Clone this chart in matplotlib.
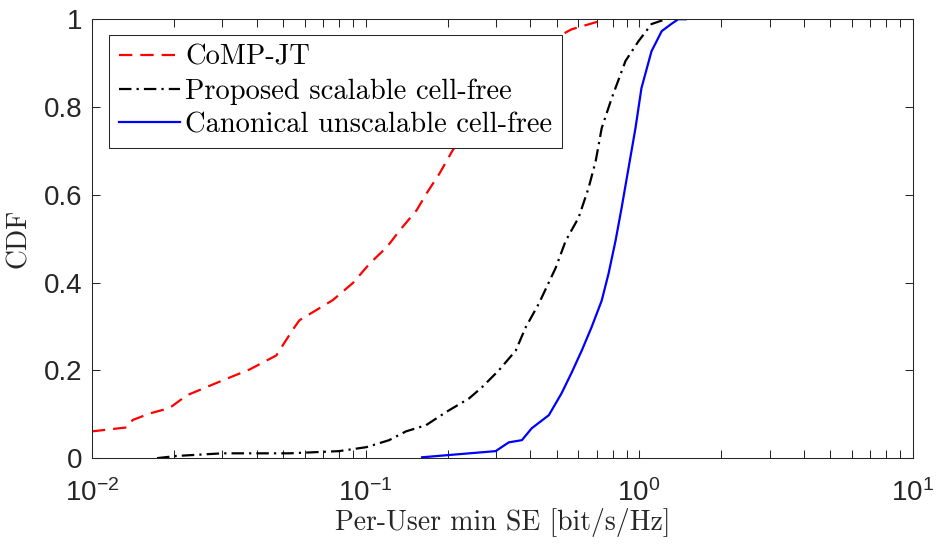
import math
import matplotlib
matplotlib.use('Agg')
from matplotlib import pyplot as plt
from matplotlib import ticker

# CDF curves (x in bit/s/Hz, y = CDF)
comp_x = [0.01, 0.0134, 0.0141, 0.0163, 0.0192, 0.0222, 0.030, 0.0377, 0.0472, 0.054,
          0.0573, 0.0759, 0.0899, 0.1038, 0.1197, 0.1334, 0.1538, 0.1675, 0.1866, 0.2085,
          0.26, 0.35, 0.508, 0.566, 0.711, 0.75]
comp_y = [0.061, 0.07, 0.087, 0.102, 0.114, 0.143, 0.177, 0.202, 0.234, 0.291,
          0.314, 0.36, 0.399, 0.444, 0.481, 0.519, 0.565, 0.604, 0.649, 0.702,
          0.78, 0.87, 0.961, 0.977, 0.995, 1.0]

prop_x = [0.0173, 0.0204, 0.030, 0.0527, 0.080, 0.1007, 0.122, 0.1406, 0.1663, 0.197,
          0.239, 0.266, 0.307, 0.354, 0.385, 0.430, 0.496, 0.539, 0.601, 0.654,
          0.694, 0.730, 0.794, 0.892, 0.995, 1.11, 1.25]
prop_y = [0, 0.005, 0.011, 0.011, 0.016, 0.025, 0.041, 0.061, 0.075, 0.105,
          0.136, 0.161, 0.2, 0.245, 0.298, 0.352, 0.434, 0.495, 0.548, 0.616,
          0.677, 0.752, 0.82, 0.905, 0.95, 0.989, 1.0]

canon_x = [0.161, 0.299, 0.334, 0.373, 0.405, 0.468, 0.521, 0.567, 0.617, 0.670,
           0.730, 0.773, 0.820, 0.863, 0.915, 0.970, 1.02, 1.11, 1.21, 1.31, 1.39, 1.48]
canon_y = [0.002, 0.016, 0.036, 0.041, 0.068, 0.098, 0.148, 0.195, 0.245, 0.298,
           0.359, 0.420, 0.495, 0.570, 0.661, 0.752, 0.843, 0.927, 0.973, 0.989, 1.0, 1.0]

labels = ['CoMP-JT', 'Proposed scalable cell-free', 'Canonical unscalable cell-free']
yticks = [0, 0.2, 0.4, 0.6, 0.8, 1]
ytick_labels = ['0', '0.2', '0.4', '0.6', '0.8', '1']

plt.rcParams['font.family'] = 'Liberation Sans'
plt.rcParams['mathtext.fontset'] = 'custom'
plt.rcParams['mathtext.rm'] = 'Liberation Sans'
plt.rcParams['mathtext.it'] = 'Liberation Sans:italic'
plt.rcParams['mathtext.bf'] = 'Liberation Sans:bold'

serif = 'cmr10'
axis_col = '#262626'

fig = plt.figure(figsize=(9.38, 5.5), dpi=100)
ax = fig.add_axes([0.098, 0.167, 0.875, 0.798])

ax.plot(comp_x, comp_y, color='#ff0000', lw=1.6, dashes=(6.0, 3.6), label=labels[0])
ax.plot(prop_x, prop_y, color='black', lw=1.6, dashes=(5.6, 2.3, 1.0, 2.3), label=labels[1])
ax.plot(canon_x, canon_y, color='#0000ff', lw=1.6, label=labels[2])

ax.set_xscale('log')
ax.set_xlim(1e-2, 1e1)
ax.set_ylim(0, 1)
ax.set_yticks(yticks)
ax.set_yticklabels(ytick_labels)
ax.xaxis.set_major_formatter(ticker.FuncFormatter(
    lambda v, p: r'$\mathregular{10^{%d}}$' % round(math.log10(v))))
ax.xaxis.set_minor_locator(ticker.LogLocator(base=10, subs=range(2, 10)))
ax.xaxis.set_minor_formatter(ticker.NullFormatter())

ax.tick_params(which='both', direction='in', top=True, right=True, color=axis_col,
               labelcolor=axis_col, width=0.75)
ax.tick_params(which='major', length=5.5, labelsize=20)
ax.tick_params(which='minor', length=5.5)
ax.tick_params(axis='y', pad=7)
ax.tick_params(axis='x', pad=15)
ax.tick_params(axis='y', which='minor', left=False, right=False)
for s in ax.spines.values():
    s.set_color(axis_col)
    s.set_linewidth(0.75)

ax.set_xlabel('Per-User min SE [bit/s/Hz]', fontfamily=serif, fontsize=20, color=axis_col,
              labelpad=1)
ax.set_ylabel('CDF', fontfamily=serif, fontsize=20, color=axis_col, labelpad=8)

leg = ax.legend(loc='upper left', bbox_to_anchor=(0.021, 0.964), borderaxespad=0,
                prop={'family': serif, 'size': 20.5}, fancybox=False, framealpha=1,
                edgecolor=axis_col, handlelength=2.15, handletextpad=0.2,
                labelspacing=0.26, borderpad=0.33)
leg.get_frame().set_linewidth(0.75)

fig.savefig('out.png', dpi=100)
